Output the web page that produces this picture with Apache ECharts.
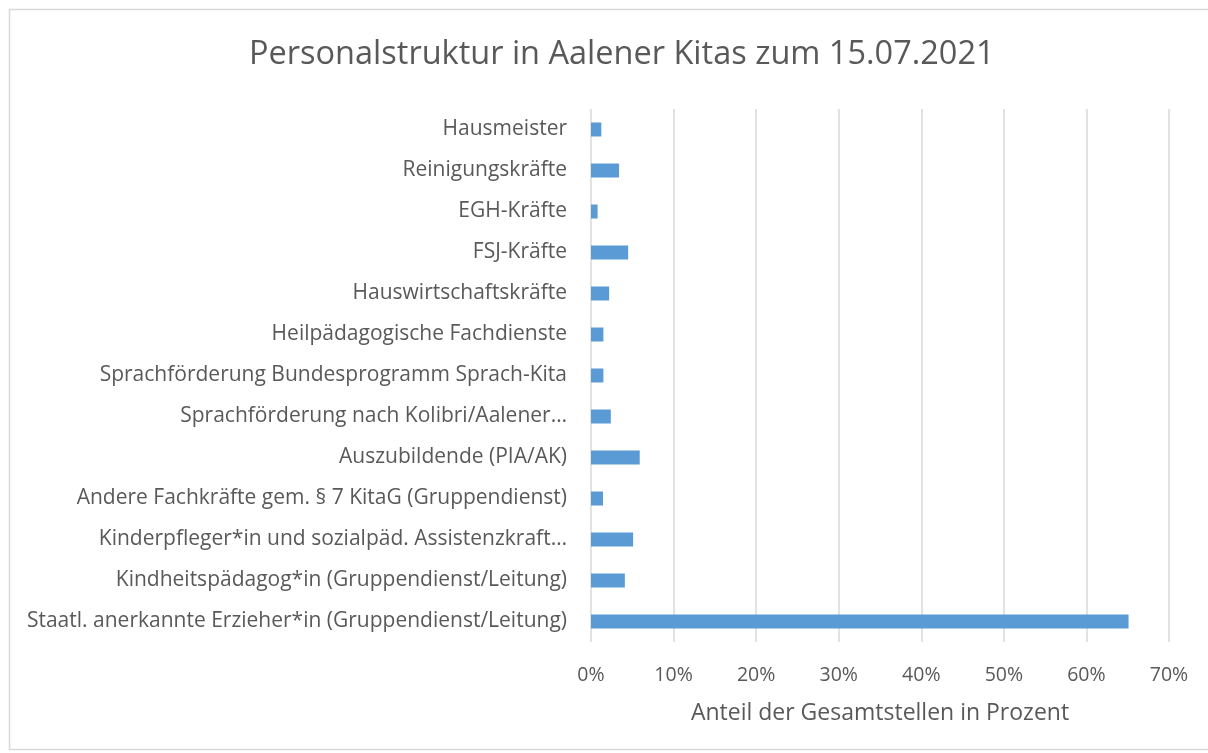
<!DOCTYPE html>
<html>
  <head>
    <meta charset="utf-8">
    <title>Personalstruktur</title>
    <style>
      html, body {
        margin: 0;
        padding: 0;
        width: 100%;
        height: 100%;
        background: #fff;
      }
      #chart {
        width: 1208px;
        height: 753px;
      }
    </style>
  </head>
  <body>
    <div id="chart"></div>
    <script src="https://cdn.jsdelivr.net/npm/echarts@6/dist/echarts.min.js"></script>
    <script type="text/javascript">
      // categories bottom to top (category axis on y starts at the bottom)
      const categories = [
        'Staatl. anerkannte Erzieher*in (Gruppendienst/Leitung)',
        'Kindheitspädagog*in (Gruppendienst/Leitung)',
        'Kinderpfleger*in und sozialpäd. Assistenzkraft…',
        'Andere Fachkräfte gem. § 7 KitaG (Gruppendienst)',
        'Auszubildende (PIA/AK)',
        'Sprachförderung nach Kolibri/Aalener…',
        'Sprachförderung Bundesprogramm Sprach-Kita',
        'Heilpädagogische Fachdienste',
        'Hauswirtschaftskräfte',
        'FSJ-Kräfte',
        'EGH-Kräfte',
        'Reinigungskräfte',
        'Hausmeister'
      ];
      const shares = [65.1, 4.1, 5.1, 1.45, 5.9, 2.4, 1.5, 1.5, 2.2, 4.5, 0.8, 3.4, 1.25];

      const textColor = '#595959';
      const fontFamily = '"Open Sans", "Noto Sans", sans-serif';

      const chart = echarts.init(document.getElementById('chart'));
      chart.setOption({
        animation: false,
        textStyle: { fontFamily: fontFamily },
        graphic: [{
          type: 'rect',
          shape: { x: 9.5, y: 9.5, width: 1210, height: 740 },
          style: { fill: 'none', stroke: '#d9d9d9', lineWidth: 1.5 }
        }],
        title: {
          text: 'Personalstruktur in Aalener Kitas zum 15.07.2021',
          left: 244,
          top: 33,
          textStyle: {
            color: textColor,
            fontSize: 32.5,
            fontWeight: 'normal',
            fontFamily: fontFamily
          }
        },
        grid: {
          left: 591,
          right: 39,
          top: 109,
          bottom: 111,
          containLabel: false
        },
        xAxis: {
          type: 'value',
          min: 0,
          max: 70,
          interval: 10,
          name: 'Anteil der Gesamtstellen in Prozent',
          nameLocation: 'middle',
          nameGap: 60,
          nameTextStyle: { color: textColor, fontSize: 23, fontFamily: fontFamily },
          axisLine: { show: false },
          axisTick: { show: false },
          axisLabel: {
            color: textColor,
            fontSize: 19.5,
            margin: 23,
            formatter: v => v + '%'
          },
          splitLine: { lineStyle: { color: '#d9d9d9', width: 1.5 } }
        },
        yAxis: {
          type: 'category',
          data: categories,
          axisLine: { show: false },
          axisTick: { show: false },
          axisLabel: {
            color: textColor,
            fontSize: 21,
            margin: 24
          }
        },
        series: [{
          type: 'bar',
          data: shares,
          barWidth: 14,
          itemStyle: { color: '#5b9bd5' }
        }]
      });
    </script>
  </body>
</html>
